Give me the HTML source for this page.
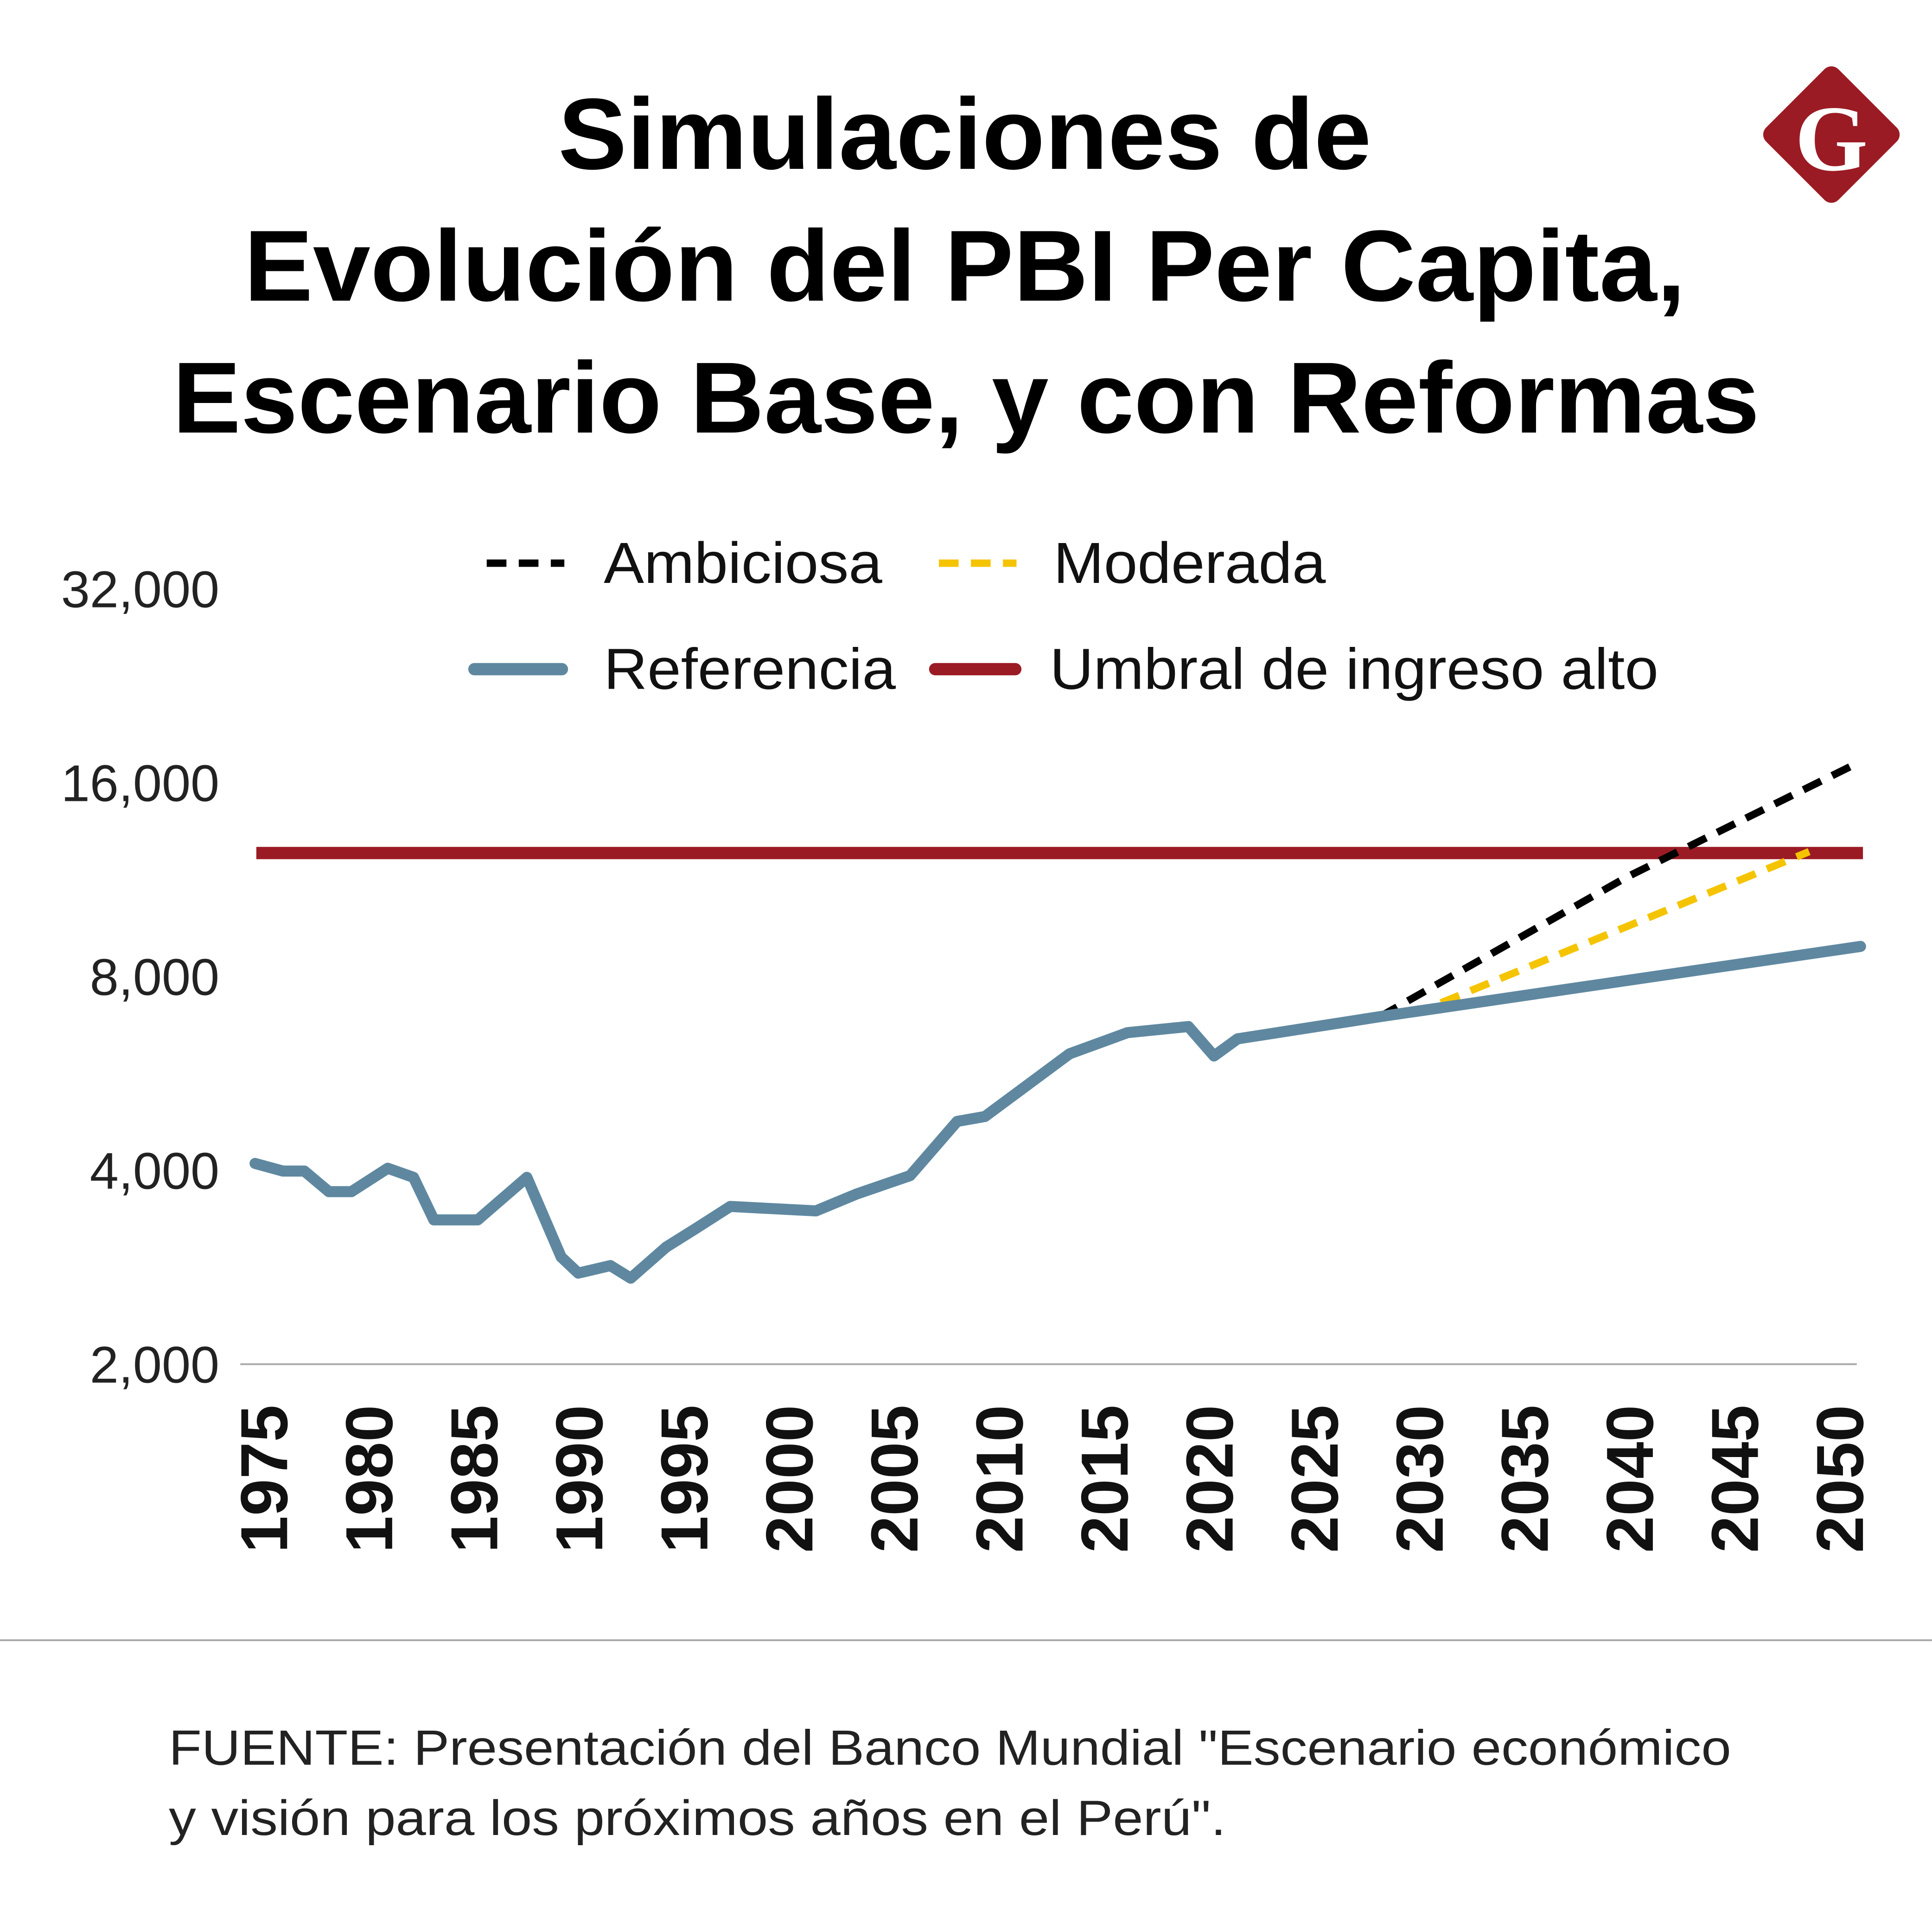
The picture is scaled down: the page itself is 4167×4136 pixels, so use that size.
<!DOCTYPE html>
<html><head><meta charset="utf-8"><style>
html,body{margin:0;padding:0;background:#fff;}
svg{display:block;}
</style></head><body>
<svg id="chart" xmlns="http://www.w3.org/2000/svg" width="4167" height="4136" viewBox="0 0 1568 1556.4" font-family="'Liberation Sans', sans-serif">
<rect width="1568" height="1556.4" fill="#fff"/>
<g font-weight="bold" font-size="82" fill="#000" text-anchor="middle">
<text x="783" y="137" textLength="660" lengthAdjust="spacingAndGlyphs">Simulaciones de</text>
<text x="783" y="244" textLength="1170" lengthAdjust="spacingAndGlyphs">Evolución del PBI Per Capita,</text>
<text x="784" y="351" textLength="1288" lengthAdjust="spacingAndGlyphs">Escenario Base, y con Reformas</text>
</g>
<g>
<rect x="1444.9" y="67.7" width="83" height="83" rx="8" fill="#9b1b24" transform="rotate(45 1486.4 109.2)"/>
<text x="1486.4" y="138" font-family="'Liberation Serif', serif" font-weight="bold" font-size="76" fill="#fff" text-anchor="middle">G</text>
</g>
<g font-size="47" fill="#111">
<line x1="395" y1="457" x2="458" y2="457" stroke="#000" stroke-width="6" stroke-dasharray="16 10"/>
<text x="490" y="473" textLength="226" lengthAdjust="spacingAndGlyphs">Ambiciosa</text>
<line x1="762" y1="457" x2="825" y2="457" stroke="#f5c400" stroke-width="6" stroke-dasharray="16 10"/>
<text x="855" y="473" textLength="221" lengthAdjust="spacingAndGlyphs">Moderada</text>
<line x1="385" y1="543" x2="456" y2="543" stroke="#5f88a0" stroke-width="10" stroke-linecap="round"/>
<text x="490" y="559" textLength="237" lengthAdjust="spacingAndGlyphs">Referencia</text>
<line x1="759" y1="543" x2="824" y2="543" stroke="#9b1b24" stroke-width="10" stroke-linecap="round"/>
<text x="852" y="559" textLength="494" lengthAdjust="spacingAndGlyphs">Umbral de ingreso alto</text>
</g>
<g id="axes"></g>
<g id="marks"></g>
<line x1="0" y1="1331" x2="1568" y2="1331" stroke="#aaa" stroke-width="1.5"/>
<g font-size="40" fill="#222">
<text x="137" y="1432" textLength="1268" lengthAdjust="spacingAndGlyphs">FUENTE: Presentación del Banco Mundial "Escenario económico</text>
<text x="137" y="1489" textLength="858" lengthAdjust="spacingAndGlyphs">y visión para los próximos años en el Perú".</text>
</g>
</svg>
<script>
const yTicks = [2000, 4000, 8000, 16000, 32000];
const yTickLabels = ["2,000", "4,000", "8,000", "16,000", "32,000"];
const xTicks = [1975,1980,1985,1990,1995,2000,2005,2010,2015,2020,2025,2030,2035,2040,2045,2050];
const refYears = [1975,1976.3,1977.3,1978.45,1979.5,1981.2,1982.4,1983.35,1985.4,1987.7,1989.3,1990.1,1991.6,1992.55,1994.2,1995.6,1997.2,2001.2,2003.1,2005.6,2007.8,2009.1,2013.05,2015.75,2018.6,2019.8,2020.9,2027.55,2038.9,2050];
const refValues = [4100,3990,3990,3706,3706,4030,3900,3350,3350,3900,2935,2770,2845,2720,3040,3250,3515,3460,3675,3925,4765,4850,6070,6545,6690,6020,6400,6930,7870,8910];
const ambYears = [2027.55, 2039.05, 2050];
const ambValues = [6930, 11400, 17250];
const modYears = [2030.4, 2047.6];
const modValues = [7280, 12500];
const thresholdValue = 12440;

const NS = "http://www.w3.org/2000/svg";
const x = yr => 207 + (yr - 1975) * (1510 - 207) / 75;
const y = v => 1107 - Math.log2(v / 2000) * 157.3;
function mk(tag, attrs, parent){ const e=document.createElementNS(NS,tag); for(const k in attrs) e.setAttribute(k,attrs[k]); parent.appendChild(e); return e; }
const axes = document.getElementById('axes'), marks = document.getElementById('marks');

const axisLine = mk('line',{x1:195,y1:y(2000),x2:1507,y2:y(2000),stroke:'#aaa','stroke-width':1.5},axes);


yTicks.forEach((v,i)=>{
  const t = mk('text',{x:178,y:y(v)+15,'text-anchor':'end','font-size':42,fill:'#222'},axes);
  t.textContent = yTickLabels[i];
  
  
});
xTicks.forEach(yr=>{
  const cx = 214 + (x(yr) - 207) * (1279 / 1303);
  const t = mk('text',{x:0,y:0,'text-anchor':'end','font-size':54,'font-weight':'bold',fill:'#111',transform:`translate(${cx+19},1140) rotate(-90)`},axes);
  t.textContent = String(yr);
  
  
});

const thr = mk('line',{x1:208,y1:y(thresholdValue),x2:1512,y2:y(thresholdValue),stroke:'#9b1b24','stroke-width':10},marks);



function pts(ys,vs){ return ys.map((yr,i)=>x(yr).toFixed(1)+','+y(vs[i]).toFixed(1)).join(' '); }
const amb = mk('polyline',{points:pts(ambYears,ambValues),fill:'none',stroke:'#000','stroke-width':6,'stroke-dasharray':'16 10'},marks);


const mod = mk('polyline',{points:pts(modYears,modValues),fill:'none',stroke:'#f5c400','stroke-width':6,'stroke-dasharray':'16 10'},marks);


const ref = mk('polyline',{points:pts(refYears,refValues),fill:'none',stroke:'#5f88a0','stroke-width':9,'stroke-linejoin':'round','stroke-linecap':'round'},marks);


</script>
</body></html>
